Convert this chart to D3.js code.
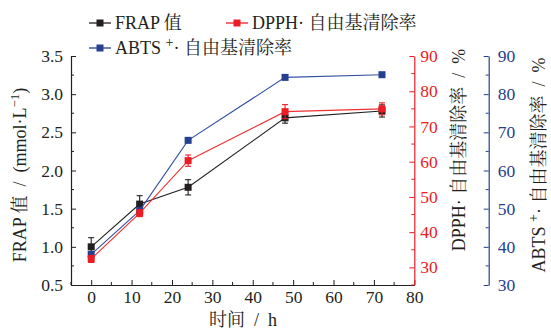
<!DOCTYPE html>
<html>
<head>
<meta charset="utf-8">
<script src="https://cdn.jsdelivr.net/npm/d3@7/dist/d3.min.js"></script>
<style>
  html, body { margin: 0; padding: 0; background: #fff; }
  svg { display: block; }
  text { font-family: "Liberation Serif", "Noto Serif CJK SC", "Noto Sans CJK SC", serif; }
</style>
</head>
<body>
<svg id="chart" width="551" height="332"></svg>
<script>
// Sampling times (h)
const hours = [0, 12, 24, 48, 72];

// FRAP value (mmol·L⁻¹) with standard deviation
const frap = [1.00, 1.56, 1.78, 2.69, 2.78];
const frapErr = [0.12, 0.11, 0.10, 0.07, 0.08];

// DPPH· radical scavenging rate (%) with standard deviation
const dpph = [32.4, 45.4, 60.3, 74.2, 75.0];
const dpphErr = [1.0, 1.0, 1.6, 2.0, 1.7];

// ABTS⁺· radical scavenging rate (%)
const abts = [38.0, 49.5, 67.9, 84.4, 85.1];

const xTicks = [0, 10, 20, 30, 40, 50, 60, 70, 80];
const frapTicks = [0.5, 1.0, 1.5, 2.0, 2.5, 3.0, 3.5];
const pctTicks = [30, 40, 50, 60, 70, 80, 90];

const RED = "#ec1c24";
const BLUE = "#24408f";
const BLACK = "#231f20";
const FS = 17.5;
const SP = "\u2002"; // en space around unit slashes

const svg = d3.select("#chart");

const plotLeft = 71, plotRight = 414.3, plotTop = 56, plotBottom = 285;
const blueX = 488.7;

const x = d3.scaleLinear().domain([-5, 80]).range([plotLeft, plotRight]);
const yL = d3.scaleLinear().domain([0.5, 3.5]).range([plotBottom, plotTop]);
const yR = d3.scaleLinear().domain([25, 90]).range([plotBottom, plotTop]);
const yB = d3.scaleLinear().domain([30, 90]).range([plotBottom, plotTop]);

function styleAxis(g, color) {
  g.select(".domain").attr("stroke", color).attr("stroke-width", 1.2);
  g.selectAll(".tick line").attr("stroke", color).attr("stroke-width", 1);
  g.selectAll(".tick text").attr("fill", color).attr("font-size", FS)
    .attr("font-family", '"Liberation Serif", serif');
}
function minorTicks(g, scale, values, orient, len, color) {
  g.selectAll("line.minor").data(values).enter().append("line")
    .attr("class", "minor")
    .attr("stroke", color).attr("stroke-width", 1)
    .each(function (d) {
      const s = d3.select(this);
      if (orient === "bottom") s.attr("x1", scale(d)).attr("x2", scale(d)).attr("y1", 0).attr("y2", -len);
      else if (orient === "left") s.attr("y1", scale(d)).attr("y2", scale(d)).attr("x1", 0).attr("x2", len);
      else s.attr("y1", scale(d)).attr("y2", scale(d)).attr("x1", 0).attr("x2", -len);
    });
}

// Bottom axis (ticks point inward)
const gx = svg.append("g").attr("transform", `translate(0,${plotBottom})`)
  .call(d3.axisBottom(x).tickValues(xTicks).tickSizeInner(-5).tickSizeOuter(0).tickPadding(6));
styleAxis(gx, BLACK);
minorTicks(gx, x, [-5, 5, 15, 25, 35, 45, 55, 65, 75], "bottom", 3, BLACK);

// Left axis: FRAP
const gl = svg.append("g").attr("transform", `translate(${plotLeft},0)`)
  .call(d3.axisLeft(yL).tickValues(frapTicks).tickFormat(d3.format(".1f")).tickSizeInner(-5).tickSizeOuter(0).tickPadding(8));
styleAxis(gl, BLACK);
minorTicks(gl, yL, [0.75, 1.25, 1.75, 2.25, 2.75, 3.25], "left", 3, BLACK);

// Right axis: DPPH
const gr = svg.append("g").attr("transform", `translate(${plotRight},0)`)
  .call(d3.axisRight(yR).tickValues(pctTicks).tickSizeInner(-5).tickSizeOuter(0).tickPadding(6));
styleAxis(gr, RED);
minorTicks(gr, yR, [25, 35, 45, 55, 65, 75, 85], "right", 3, RED);

// Outer right axis: ABTS
const gb = svg.append("g").attr("transform", `translate(${blueX},0)`)
  .call(d3.axisRight(yB).tickValues(pctTicks).tickSizeInner(-5).tickSizeOuter(0).tickPadding(9));
styleAxis(gb, BLUE);
minorTicks(gb, yB, [35, 45, 55, 65, 75, 85], "right", 3, BLUE);

// Series
function series(vals, errs, yScale, color, lineColor) {
  const g = svg.append("g");
  const line = d3.line().x((d, i) => x(hours[i])).y(d => yScale(d));
  g.append("path").datum(vals).attr("d", line)
    .attr("fill", "none").attr("stroke", lineColor).attr("stroke-width", 1.1);
  if (errs) {
    vals.forEach((v, i) => {
      const cx = x(hours[i]);
      const y1 = yScale(v + errs[i]), y2 = yScale(v - errs[i]);
      g.append("line").attr("x1", cx).attr("x2", cx).attr("y1", y1).attr("y2", y2)
        .attr("stroke", color).attr("stroke-width", 1.1);
      [y1, y2].forEach(yy => g.append("line")
        .attr("x1", cx - 3).attr("x2", cx + 3).attr("y1", yy).attr("y2", yy)
        .attr("stroke", color).attr("stroke-width", 1.1));
    });
  }
  g.selectAll("rect").data(vals).enter().append("rect")
    .attr("x", (d, i) => x(hours[i]) - 3.5).attr("y", d => yScale(d) - 3.5)
    .attr("width", 7).attr("height", 7).attr("fill", color);
}
series(frap, frapErr, yL, BLACK, BLACK);
series(abts, null, yB, BLUE, "#3450a0");
series(dpph, dpphErr, yR, RED, "#f03030");

// Legend
function legendItem(lx, ly, color, build) {
  svg.append("line").attr("x1", lx).attr("x2", lx + 22).attr("y1", ly).attr("y2", ly)
    .attr("stroke", color).attr("stroke-width", 1.3);
  svg.append("rect").attr("x", lx + 7.5).attr("y", ly - 3.5).attr("width", 7).attr("height", 7).attr("fill", color);
  const t = svg.append("text").attr("x", lx + 26).attr("y", ly + 6).attr("font-size", 18).attr("fill", BLACK);
  build(t);
}
legendItem(89, 23, BLACK, t => t.text("FRAP 值"));
legendItem(226, 23, RED, t => t.text("DPPH· 自由基清除率"));
legendItem(89, 48, BLUE, t => {
  t.append("tspan").text("ABTS ");
  t.append("tspan").attr("dy", -7).attr("font-size", 14).text("+");
  t.append("tspan").attr("dy", 7).text("· 自由基清除率");
});

// Axis titles
svg.append("text").attr("x", 243).attr("y", 326).attr("text-anchor", "middle")
  .attr("font-size", 18).attr("fill", BLACK).text(`时间${SP}/${SP}h`);

const lt = svg.append("text").attr("transform", "translate(26,175) rotate(-90)")
  .attr("text-anchor", "middle").attr("font-size", 18).attr("fill", BLACK);
lt.append("tspan").text(`FRAP 值${SP}/${SP}(mmol·L`);
lt.append("tspan").attr("dy", -7).attr("font-size", 13).text("−1");
lt.append("tspan").attr("dy", 7).text(")");

svg.append("text").attr("transform", "translate(465,150) rotate(-90)")
  .attr("text-anchor", "middle").attr("font-size", 18).attr("fill", BLACK)
  .text(`DPPH· 自由基清除率${SP}/${SP}%`);

const bt = svg.append("text").attr("transform", "translate(545,165) rotate(-90)")
  .attr("text-anchor", "middle").attr("font-size", 18).attr("fill", BLACK);
bt.append("tspan").text("ABTS ");
bt.append("tspan").attr("dy", -7).attr("font-size", 14).text("+");
bt.append("tspan").attr("dy", 7).text(`· 自由基清除率${SP}/${SP}%`);
</script>
</body>
</html>
